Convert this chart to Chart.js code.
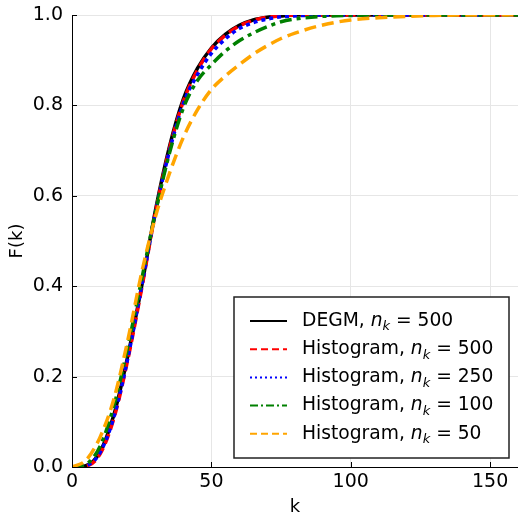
<head>
    <meta charset="UTF-8">
    <title>F(k)</title>
    <script src="https://cdn.jsdelivr.net/npm/chart.js@4.4.0/dist/chart.umd.min.js"></script>
    <style>
        body { margin: 0; background: #fff; }
        #wrap { width: 518px; height: 517px; }
    </style>
</head>
<body>
    <div id="wrap"><canvas id="cdfChart"></canvas></div>

    <script>
        // k values and CDF series
        var kValues = [0, 5, 10, 15, 20, 25, 30, 35, 40, 45, 50, 55, 60, 65, 70, 75, 80, 90, 100, 110, 120, 130, 140, 150, 160];
        var degm500 = [0, 0.003, 0.033, 0.115, 0.245, 0.40, 0.57, 0.71, 0.815, 0.882, 0.927, 0.957, 0.977, 0.989, 0.995, 0.998, 1, 1, 1, 1, 1, 1, 1, 1, 1];
        var hist500 = [0, 0.002, 0.028, 0.107, 0.237, 0.395, 0.565, 0.705, 0.81, 0.878, 0.925, 0.955, 0.976, 0.988, 0.995, 0.998, 1, 1, 1, 1, 1, 1, 1, 1, 1];
        var hist250 = [0, 0.003, 0.031, 0.11, 0.24, 0.40, 0.565, 0.70, 0.805, 0.868, 0.915, 0.947, 0.97, 0.983, 0.991, 0.996, 0.998, 1, 1, 1, 1, 1, 1, 1, 1];
        var hist100 = [0, 0.006, 0.045, 0.135, 0.265, 0.415, 0.565, 0.695, 0.795, 0.855, 0.89, 0.92, 0.943, 0.96, 0.974, 0.985, 0.991, 0.997, 0.999, 1, 1, 1, 1, 1, 1];
        var hist50 = [0, 0.015, 0.065, 0.15, 0.28, 0.43, 0.555, 0.65, 0.73, 0.79, 0.835, 0.865, 0.89, 0.913, 0.932, 0.948, 0.96, 0.978, 0.989, 0.994, 0.997, 0.999, 1, 1, 1];

        var seriesNames = ['DEGM', 'Histogram', 'Histogram', 'Histogram', 'Histogram'];
        var seriesN = ['500', '500', '250', '100', '50'];
        var xTicks = [0, 50, 100, 150];
        var yTicks = [0, 0.2, 0.4, 0.6, 0.8, 1.0];

        var FONT = '"DejaVu Sans", sans-serif';

        function toPoints(values) {
            return kValues.map(function (k, i) { return { x: k, y: values[i] }; });
        }

        var styles = [
            { color: '#000000', dash: [], legendDash: [] },
            { color: '#ff0000', dash: [10, 5], legendDash: [7, 4] },
            { color: '#0000ff', dash: [4, 4], legendDash: [2, 3] },
            { color: '#008000', dash: [12, 5, 4, 5], legendDash: [8, 3, 2, 3] },
            { color: '#ffa500', dash: [12, 6], legendDash: [7, 4] }
        ];
        var allSeries = [degm500, hist500, hist250, hist100, hist50];

        var datasets = allSeries.map(function (vals, i) {
            return {
                label: seriesNames[i] + ', n_k = ' + seriesN[i],
                data: toPoints(vals),
                borderColor: styles[i].color,
                borderDash: styles[i].dash,
                borderWidth: 3.5,
                pointRadius: 0,
                fill: false,
                cubicInterpolationMode: 'monotone',
                order: 5 - i
            };
        });

        // small inward tick marks + boxed legend with italic subscript
        var extras = {
            id: 'extras',
            afterDraw: function (chart) {
                var ctx = chart.ctx;
                var xs = chart.scales.x, ys = chart.scales.y;
                var area = chart.chartArea;
                ctx.save();
                ctx.strokeStyle = '#000';
                ctx.lineWidth = 1;
                ctx.setLineDash([]);
                xTicks.forEach(function (t) {
                    var px = Math.round(xs.getPixelForValue(t)) + 0.5;
                    ctx.beginPath();
                    ctx.moveTo(px, area.bottom);
                    ctx.lineTo(px, area.bottom - 5);
                    ctx.stroke();
                });
                yTicks.forEach(function (t) {
                    var py = Math.round(ys.getPixelForValue(t)) + 0.5;
                    ctx.beginPath();
                    ctx.moveTo(area.left, py);
                    ctx.lineTo(area.left + 5, py);
                    ctx.stroke();
                });

                // legend box
                var bx = 234, by = 297, bw = 275, bh = 161;
                ctx.fillStyle = '#fff';
                ctx.fillRect(bx, by, bw, bh);
                ctx.strokeStyle = '#222';
                ctx.lineWidth = 1.5;
                ctx.strokeRect(bx, by, bw, bh);

                for (var i = 0; i < allSeries.length; i++) {
                    var rowY = 321 + i * 28.2;
                    ctx.strokeStyle = styles[i].color;
                    ctx.lineWidth = 2;
                    ctx.setLineDash(styles[i].legendDash);
                    ctx.beginPath();
                    ctx.moveTo(250, rowY);
                    ctx.lineTo(287, rowY);
                    ctx.stroke();
                    ctx.setLineDash([]);

                    ctx.fillStyle = '#000';
                    ctx.textBaseline = 'middle';
                    ctx.textAlign = 'left';
                    var tx = 302;
                    ctx.font = '18.7px ' + FONT;
                    var pre = seriesNames[i] + ', ';
                    ctx.fillText(pre, tx, rowY);
                    tx += ctx.measureText(pre).width;
                    ctx.font = 'italic 18.7px ' + FONT;
                    ctx.fillText('n', tx, rowY);
                    tx += ctx.measureText('n').width;
                    ctx.font = 'italic 13px ' + FONT;
                    ctx.fillText('k', tx, rowY + 6);
                    tx += ctx.measureText('k').width;
                    ctx.font = '18.7px ' + FONT;
                    ctx.fillText(' = ' + seriesN[i], tx, rowY);
                }
                ctx.restore();
            }
        };

        new Chart(document.getElementById('cdfChart'), {
            type: 'line',
            data: { datasets: datasets },
            options: {
                responsive: true,
                maintainAspectRatio: false,
                animation: false,
                layout: { padding: { top: 15, right: 0, left: 0, bottom: 0 } },
                plugins: { legend: { display: false }, tooltip: { enabled: false } },
                scales: {
                    x: {
                        type: 'linear',
                        min: 0,
                        max: 160,
                        afterFit: function (scale) { scale.height = 50; },
                        afterBuildTicks: function (scale) { scale.ticks = xTicks.map(function (v) { return { value: v }; }); },
                        border: { color: '#000', width: 1 },
                        grid: { color: '#e6e6e6', drawTicks: false },
                        ticks: { color: '#000', padding: 4, font: { family: FONT, size: 19 }, maxRotation: 0 },
                        title: { display: true, text: 'k', color: '#000', font: { family: FONT, size: 18 }, padding: { top: 0, bottom: -1 } }
                    },
                    y: {
                        type: 'linear',
                        min: 0,
                        max: 1,
                        afterFit: function (scale) { scale.width = 72; scale.paddingTop = 0; scale.paddingBottom = 0; },
                        afterBuildTicks: function (scale) { scale.ticks = yTicks.map(function (v) { return { value: v }; }); },
                        border: { color: '#000', width: 1 },
                        grid: { color: '#e6e6e6', drawTicks: false },
                        ticks: { color: '#000', padding: 9, font: { family: FONT, size: 19 }, callback: function (v) { return v.toFixed(1); } },
                        title: { display: true, text: 'F(k)', color: '#000', font: { family: FONT, size: 18 }, padding: { top: 7, bottom: 0 } }
                    }
                }
            },
            plugins: [extras]
        });
    </script>
</body>
